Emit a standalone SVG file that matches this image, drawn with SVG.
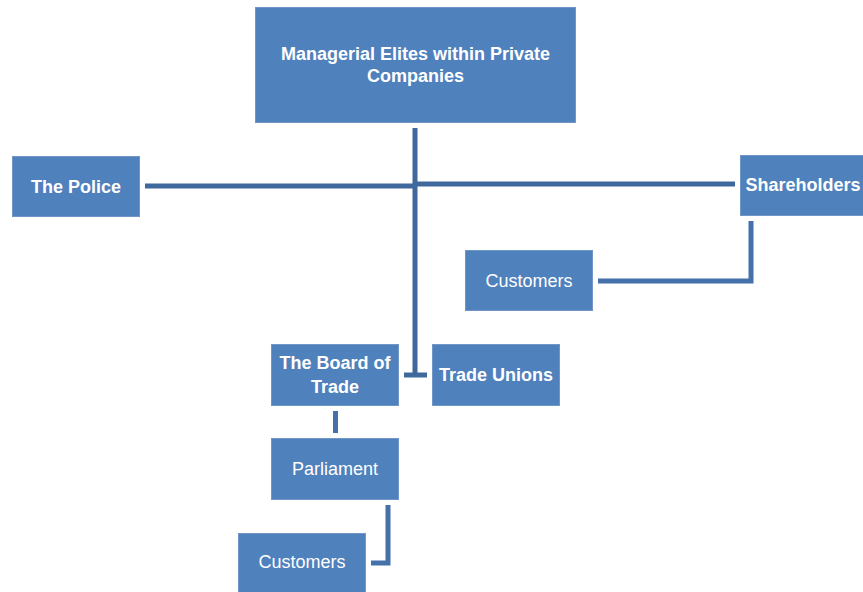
<svg xmlns="http://www.w3.org/2000/svg" width="863" height="592" viewBox="0 0 863 592">
<style>
.box{fill:#4F81BD;stroke:#7396c8;stroke-width:1}
.t{font-family:"Liberation Sans",Arial,sans-serif;font-size:18px;fill:#ffffff;text-anchor:middle}
.b{font-weight:bold}
.ln{stroke:#3F699C;stroke-width:5;fill:none}
.ln2{stroke:#4571AB;stroke-width:5;fill:none}
</style>
<rect width="863" height="592" fill="#ffffff"/>
<g id="connectors">
<path class="ln" d="M145,186 H415"/>
<path class="ln" d="M415,184 H735"/>
<path class="ln" d="M415,128 V377"/>
<path class="ln" d="M404,375 H427"/>
<path class="ln2" d="M751,221 V281 H598"/>
<path class="ln2" d="M335.5,411 V433"/>
<path class="ln2" d="M388,505 V563 H371"/>
</g>
<g id="managerial">
<rect class="box" x="255.5" y="7.5" width="320" height="115"/>
<text class="t b" x="415.5" y="60">Managerial Elites within Private</text>
<text class="t b" x="415.5" y="82">Companies</text>
</g>
<g id="police">
<rect class="box" x="12.5" y="156.5" width="127" height="60"/>
<text class="t b" x="76" y="193">The Police</text>
</g>
<g id="shareholders">
<rect class="box" x="740.5" y="155.5" width="128" height="60"/>
<text class="t b" x="803" y="191">Shareholders</text>
</g>
<g id="customers-right">
<rect class="box" x="465.5" y="250.5" width="127" height="60"/>
<text class="t" x="529" y="287">Customers</text>
</g>
<g id="board-of-trade">
<rect class="box" x="271.5" y="344.5" width="127" height="61"/>
<text class="t b" x="335" y="369">The Board of</text>
<text class="t b" x="335" y="393">Trade</text>
</g>
<g id="trade-unions">
<rect class="box" x="432.5" y="344.5" width="127" height="61"/>
<text class="t b" x="496" y="381">Trade Unions</text>
</g>
<g id="parliament">
<rect class="box" x="271.5" y="438.5" width="127" height="61"/>
<text class="t" x="335" y="475">Parliament</text>
</g>
<g id="customers-bottom">
<rect class="box" x="238.5" y="533.5" width="127" height="60"/>
<text class="t" x="302" y="568">Customers</text>
</g>
</svg>
